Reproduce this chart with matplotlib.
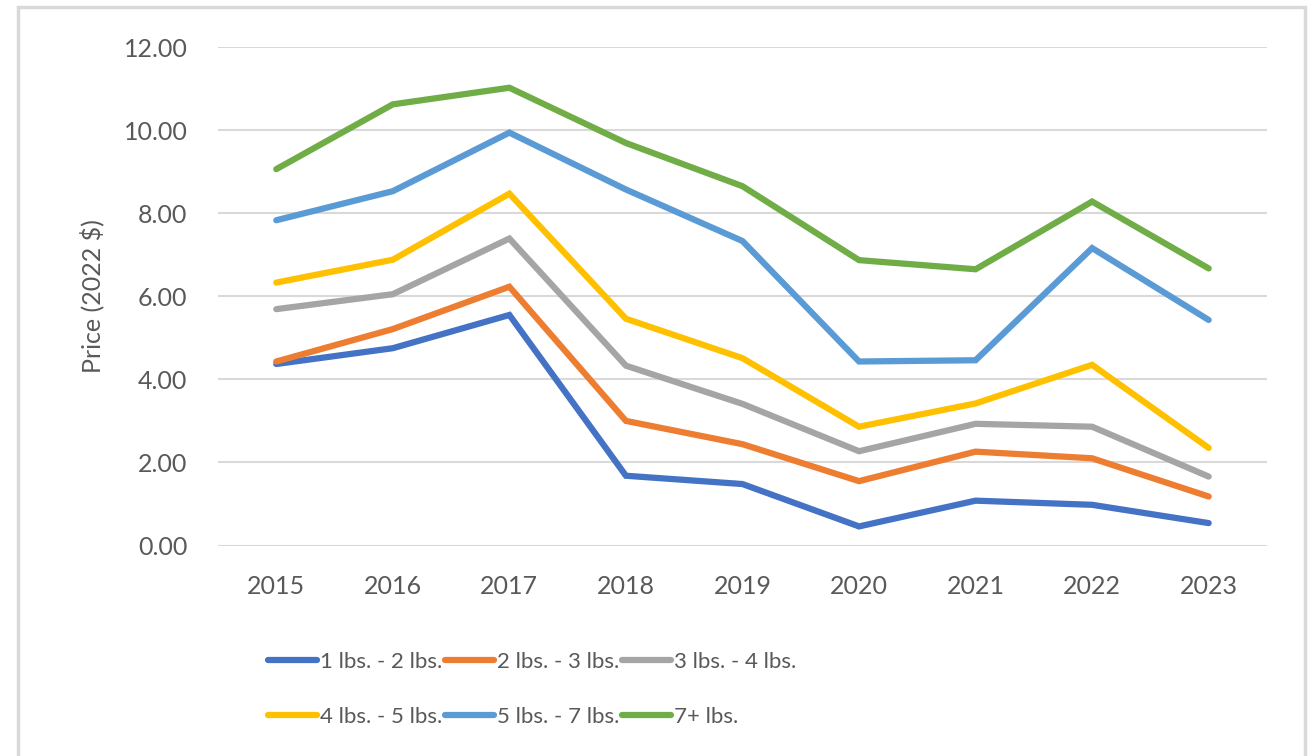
import matplotlib.pyplot as plt
from matplotlib.patches import Rectangle

years = ["2015", "2016", "2017", "2018", "2019", "2020", "2021", "2022", "2023"]

lbs_1_2 = [4.37, 4.75, 5.55, 1.68, 1.48, 0.46, 1.08, 0.98, 0.54]
lbs_2_3 = [4.43, 5.21, 6.23, 3.00, 2.44, 1.55, 2.26, 2.10, 1.18]
lbs_3_4 = [5.69, 6.05, 7.39, 4.33, 3.41, 2.27, 2.93, 2.86, 1.66]
lbs_4_5 = [6.33, 6.88, 8.47, 5.46, 4.51, 2.86, 3.42, 4.35, 2.35]
lbs_5_7 = [7.83, 8.53, 9.94, 8.57, 7.33, 4.43, 4.46, 7.16, 5.43]
lbs_7p = [9.06, 10.62, 11.02, 9.69, 8.65, 6.87, 6.65, 8.28, 6.67]

labels = ["1 lbs. - 2 lbs.", "2 lbs. - 3 lbs.", "3 lbs. - 4 lbs.",
          "4 lbs. - 5 lbs.", "5 lbs. - 7 lbs.", "7+ lbs."]
series = [lbs_1_2, lbs_2_3, lbs_3_4, lbs_4_5, lbs_5_7, lbs_7p]
line_colors = ["#4472C4", "#ED7D31", "#A5A5A5", "#FFC000", "#5B9BD5", "#70AD47"]

TEXT = "#595959"
FS = 18
plt.rcParams["font.family"] = ["Lato", "DejaVu Sans"]

fig = plt.figure(figsize=(13.14, 7.56), dpi=100)
ax = fig.add_axes([0.1659, 0.2784, 0.7983, 0.6594])

x = range(len(years))
handles = []
for vals, lab, col in zip(series, labels, line_colors):
    h, = ax.plot(x, vals, color=col, lw=4.5, label=lab,
                 solid_capstyle="round", solid_joinstyle="miter")
    handles.append(h)

ax.set_xlim(-0.5, len(years) - 0.5)
ax.set_ylim(0, 12)
ax.set_yticks(range(0, 13, 2))
ax.set_yticklabels([f"{v:.2f}" for v in range(0, 13, 2)])
ax.set_xticks(list(x))
ax.set_xticklabels(years)
ax.tick_params(axis="both", length=0, labelsize=FS, colors=TEXT)
ax.tick_params(axis="y", pad=22)
ax.tick_params(axis="x", pad=21)
ax.grid(axis="y", color="#D9D9D9", lw=1.5)
ax.set_axisbelow(True)
for s in ax.spines.values():
    s.set_visible(False)
ax.set_ylabel("Price (2022 $)", fontsize=FS, color=TEXT, labelpad=14)

# legend: two rows of three, filled row by row
order = [0, 3, 1, 4, 2, 5]
fig.legend(handles=[handles[i] for i in order], labels=[labels[i] for i in order],
           ncol=3, loc="center", bbox_to_anchor=(0.405, 0.088), frameon=False,
           fontsize=16, handlelength=2.2, handletextpad=0.12, columnspacing=0.15,
           labelspacing=1.6, labelcolor=TEXT)

# chart border
fig.patches.append(Rectangle((17.5 / 1314, -0.05), (1305 - 17.5) / 1314, 1.05 - 7.5 / 756,
                             transform=fig.transFigure, fill=False,
                             edgecolor="#D9D9D9", lw=2.5))

fig.savefig("out.png", dpi=100)
